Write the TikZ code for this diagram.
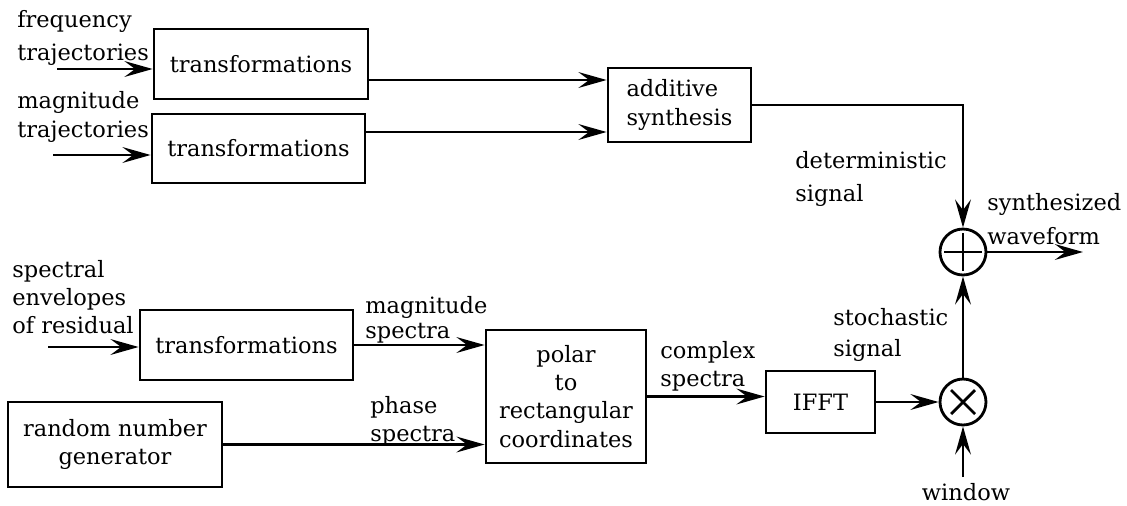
\documentclass[tikz,border=0pt]{standalone}
\usepackage{fontspec}
\setmainfont{DejaVu Serif}
\usetikzlibrary{arrows.meta,positioning}
\tikzset{
  block/.style={draw, line width=1.6pt, inner sep=2pt, align=center},
  lbl/.style={anchor=west, inner sep=0pt, align=left},
  flow/.style={line width=1.6pt, -{Stealth[length=16pt,width=9pt,inset=6pt]}},
  junction/.style={circle, draw, line width=1.6pt, minimum size=0.92cm, inner sep=0pt},
  plusnode/.style={junction, path picture={
      \draw[line width=1.6pt] ([xshift=-0.38cm]path picture bounding box.center) -- ([xshift=0.38cm]path picture bounding box.center);
      \draw[line width=1.6pt] ([yshift=-0.38cm]path picture bounding box.center) -- ([yshift=0.38cm]path picture bounding box.center);}},
  timesnode/.style={junction, path picture={
      \draw[line width=1.6pt] ([shift={(-0.24cm,-0.24cm)}]path picture bounding box.center) -- ([shift={(0.24cm,0.24cm)}]path picture bounding box.center);
      \draw[line width=1.6pt] ([shift={(-0.24cm,0.24cm)}]path picture bounding box.center) -- ([shift={(0.24cm,-0.24cm)}]path picture bounding box.center);}}
}
\begin{document}
\begin{tikzpicture}[x=0.02cm, y=-0.02cm, font=\fontsize{12.8}{16}\selectfont]
        \useasboundingbox (0,0) rectangle (1127,505);

        % Deterministic part
        \node[block, minimum width=4.28cm, minimum height=1.4cm] (trans1) at (261,64) {transformations};
        \node[block, minimum width=4.26cm, minimum height=1.38cm] (trans2) at (258.5,148.5) {transformations};
        \node[block, align=left, minimum width=2.86cm, minimum height=1.48cm] (add) at (679.5,105) {additive\\synthesis};
        \node[plusnode] (plus) at (963,252) {};

        % Stochastic part
        \node[block, minimum width=4.26cm, minimum height=1.4cm] (trans3) at (246.5,345) {transformations};
        \node[block, minimum width=4.28cm, minimum height=1.7cm] (rng) at (115,444.5) {random number\\generator};
        \node[block, minimum width=3.2cm, minimum height=2.66cm] (polar) at (566,396.5) {polar\\to\\rectangular\\coordinates};
        \node[block, minimum width=2.18cm, minimum height=1.24cm] (ifft) at (820.5,402) {IFFT};
        \node[timesnode] (times) at (963,402) {};

        % Labels
        \node[lbl] (freqlbl) at (17,38) {frequency\\[3pt]trajectories};
        \node[lbl] (maglbl) at (17,117) {magnitude\\trajectories};
        \node[lbl] (detlbl) at (795,179) {deterministic\\[3pt]signal};
        \node[lbl] (synlbl) at (987,219) {synthesized\\[3pt]waveform};
        \node[lbl] (envlbl) at (12,297) {spectral\\envelopes\\of residual};
        \node[lbl] (magspec) at (365,320) {magnitude\\[-2pt]spectra};
        \node[lbl] (phspec) at (370,421) {phase\\spectra};
        \node[lbl] (cplx) at (660,366) {complex\\spectra};
        \node[lbl] (stoch) at (833,335) {stochastic\\[2pt]signal};
        \node[inner sep=0pt] (winlbl) at (966,492) {window};

        % Connections, top
        \coordinate (fin) at (57,69);
        \coordinate (min) at (53,155);
        \draw[flow] (fin) -- (fin -| trans1.west);
        \draw[flow] (min) -- (min -| trans2.west);
        \draw[flow] ([yshift=-0.32cm]trans1.east) coordinate (t1o) -- (t1o -| add.west);
        \draw[flow] ([yshift=0.33cm]trans2.east) coordinate (t2o) -- (t2o -| add.west);
        \draw[flow] (add.east) -| (plus.north);
        \coordinate (wout) at (1083,252);
        \draw[flow] (plus.east) -- (wout);

        % Connections, bottom
        \coordinate (ein) at (48,347);
        \coordinate (win) at (963,477);
        \draw[flow] (ein) -- (ein -| trans3.west);
        \draw[flow] (trans3.east) -- (trans3.east -| polar.west);
        \draw[flow] (rng.east) -- (rng.east -| polar.west);
        \draw[flow] (polar.east) -- (polar.east -| ifft.west);
        \draw[flow] (ifft.east) -- (times.west);
        \draw[flow] (times.north) -- (plus.south);
        \draw[flow] (win) -- (times.south);
    \end{tikzpicture}
\end{document}
